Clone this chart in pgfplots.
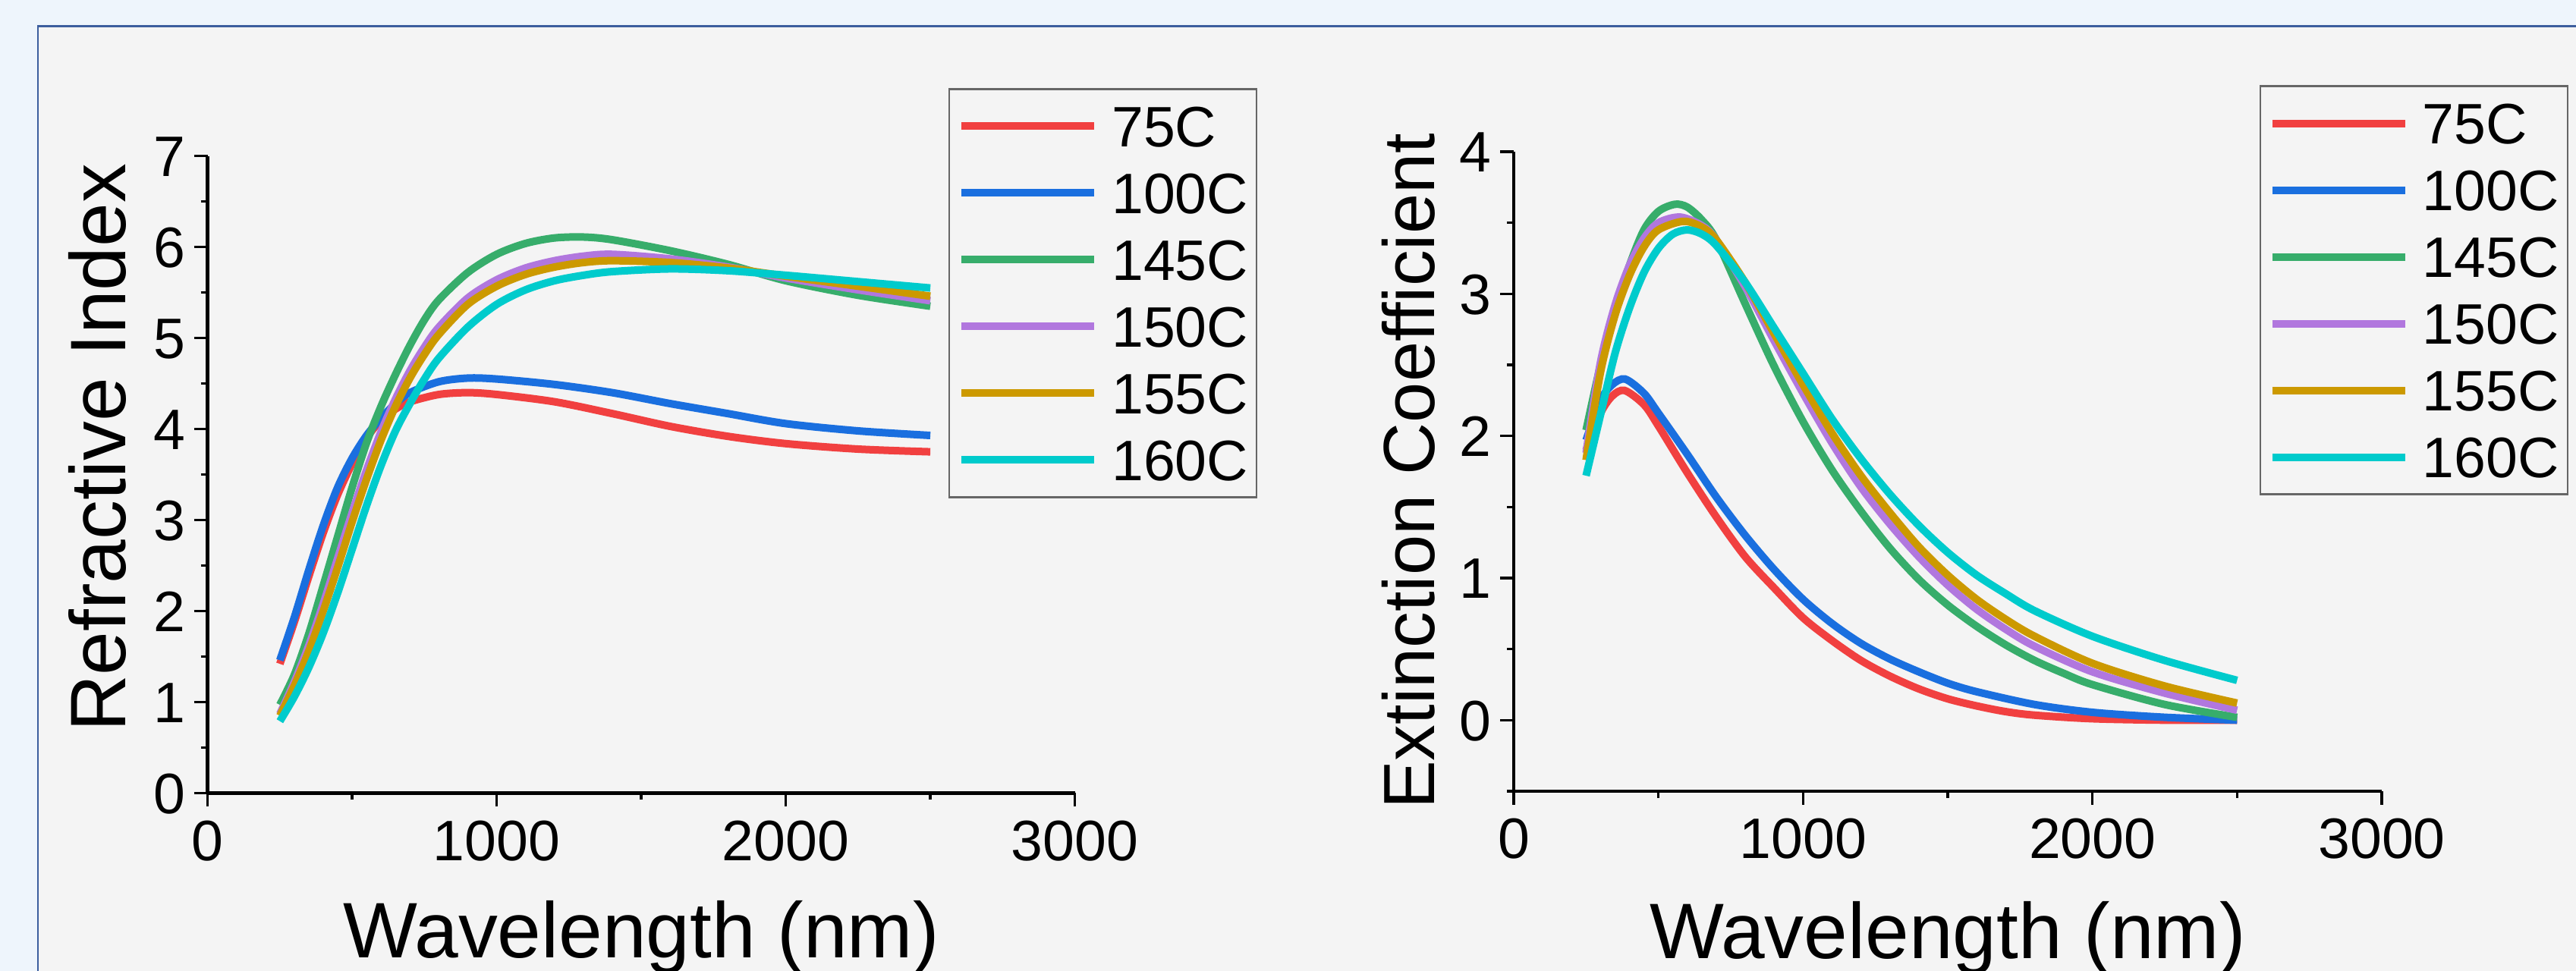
\documentclass[border=0pt]{standalone}
\usepackage{fontspec}
\setmainfont{Liberation Sans}
\usepackage{pgfplots}
\pgfplotsset{compat=1.18}

\definecolor{c75}{HTML}{F14040}
\definecolor{c100}{HTML}{1A6FDF}
\definecolor{c145}{HTML}{37AD6B}
\definecolor{c150}{HTML}{B177DE}
\definecolor{c155}{HTML}{CC9900}
\definecolor{c160}{HTML}{00CBCC}
\definecolor{outerbg}{HTML}{EEF5FC}
\definecolor{panelbg}{HTML}{F4F4F4}
\definecolor{frameblue}{HTML}{3C5E9E}

% shared look of both panels (1 px of the reference = 0.1 mm)
\pgfplotsset{
  originpanel/.style={
    scale only axis,
    axis lines=left,
    axis line style={-, line width=0.45mm, black},
    tick align=outside,
    major tick length=1.8mm, minor tick length=0.9mm,
    every tick/.style={black, line width=0.35mm},
    xmin=0, xmax=3000,
    xtick={0,1000,2000,3000}, minor xtick={500,1500,2500},
    scaled x ticks=false,
    /pgf/number format/assume math mode=true,
    /pgf/number format/set thousands separator={},
    tick label style={font=\fontsize{21.4}{24}\selectfont, inner sep=0pt,
      text height=5.4mm, text depth=0pt},
    xticklabel style={anchor=north, yshift=-1.6mm},
    yticklabel style={anchor=east, xshift=-1.1mm},
    label style={font=\fontsize{29.5}{34}\selectfont},
    xlabel={Wavelength (nm)},
    legend cell align=left,
    legend image code/.code={
      \draw[#1, line width=1mm] (0mm,0mm) -- (17.5mm,0mm);
      \path[draw=none, fill=none] (0mm,0mm) -- (19.8mm,0mm);
    },
    legend style={draw=black!60, line width=0.25mm, fill=none,
      font=\fontsize{21.4}{24}\selectfont,
      inner xsep=1.1mm, inner ysep=2.2mm, row sep=3.4mm,
      nodes={inner sep=0pt, text height=5.4mm, text depth=0pt}},
    every axis plot/.append style={line width=1mm, smooth, no markers},
  },
}

\begin{document}
\begin{tikzpicture}
\useasboundingbox (0,0) rectangle (339.5mm,128mm);
\fill[outerbg] (0,0) rectangle (339.5mm,128mm);
\filldraw[fill=panelbg, draw=frameblue, line width=0.25mm] (5mm,-5mm) rectangle (345mm,124.55mm);

% ---------- refractive index ----------
\begin{axis}[originpanel,
  at={(27.36mm,23.45mm)}, anchor=south west,
  width=114.3mm, height=83.98mm,
  ymin=0, ymax=7, ytick={0,...,7}, minor ytick={0.5,1.5,...,6.5},
  ylabel={Refractive Index},
  xlabel style={at={(axis description cs:0.5,-0.259)}, anchor=base},
  ylabel style={at={(axis description cs:-0.095,0.542)}, anchor=base},
  legend style={at={(axis description cs:0.8542,1.1068)}, anchor=north west},
]
\addplot[c75] coordinates {(250,1.42)(300,1.88)(350,2.38)(400,2.86)(450,3.28)(500,3.62)(550,3.90)(600,4.10)(650,4.22)(700,4.30)(800,4.38)(900,4.40)(1000,4.38)(1200,4.30)(1400,4.17)(1600,4.03)(1800,3.92)(2000,3.84)(2250,3.78)(2500,3.75)};
\addplot[c100] coordinates {(250,1.46)(300,1.93)(350,2.45)(400,2.94)(450,3.36)(500,3.68)(550,3.93)(600,4.12)(650,4.28)(700,4.40)(800,4.52)(900,4.56)(1000,4.55)(1200,4.49)(1400,4.40)(1600,4.28)(1800,4.17)(2000,4.06)(2250,3.98)(2500,3.93)};
\addplot[c145] coordinates {(250,0.97)(300,1.30)(350,1.75)(400,2.28)(450,2.82)(500,3.36)(550,3.85)(600,4.25)(650,4.60)(700,4.92)(750,5.20)(800,5.42)(900,5.72)(1000,5.92)(1100,6.04)(1200,6.10)(1300,6.11)(1400,6.08)(1600,5.96)(1800,5.81)(2000,5.63)(2250,5.47)(2500,5.35)};
\addplot[c150] coordinates {(250,0.87)(300,1.22)(350,1.62)(400,2.08)(450,2.58)(500,3.08)(550,3.55)(600,3.97)(650,4.33)(700,4.64)(750,4.90)(800,5.12)(900,5.44)(1000,5.64)(1100,5.77)(1200,5.85)(1300,5.90)(1400,5.92)(1600,5.87)(1800,5.78)(2000,5.66)(2250,5.53)(2500,5.41)};
\addplot[c155] coordinates {(250,0.85)(300,1.18)(350,1.56)(400,2.00)(450,2.48)(500,2.98)(550,3.45)(600,3.88)(650,4.25)(700,4.56)(750,4.82)(800,5.04)(900,5.37)(1000,5.57)(1100,5.70)(1200,5.78)(1300,5.83)(1400,5.85)(1600,5.83)(1800,5.77)(2000,5.68)(2250,5.57)(2500,5.46)};
\addplot[c160] coordinates {(250,0.79)(300,1.06)(350,1.38)(400,1.76)(450,2.20)(500,2.68)(550,3.16)(600,3.60)(650,3.98)(700,4.28)(750,4.55)(800,4.78)(900,5.12)(1000,5.37)(1100,5.53)(1200,5.63)(1300,5.69)(1400,5.73)(1600,5.76)(1800,5.74)(2000,5.69)(2250,5.62)(2500,5.55)};
\legend{75C,100C,145C,150C,155C,160C}
\end{axis}

% ---------- extinction coefficient ----------
\begin{axis}[originpanel,
  at={(199.5mm,23.7mm)}, anchor=south west,
  width=114.4mm, height=84.3mm,
  ymin=-0.5, ymax=4, ytick={0,...,4}, minor ytick={-0.5,0.5,1.5,2.5,3.5},
  ylabel={Extinction Coefficient},
  ylabel style={font=\fontsize{27.2}{31}\selectfont,
    at={(axis description cs:-0.0918,0.5)}, anchor=base},
  xlabel style={at={(axis description cs:0.5,-0.261)}, anchor=base},
  legend style={at={(axis description cs:0.859,1.104)}, anchor=north west},
]
\addplot[c75] coordinates {(250,1.90)(300,2.16)(340,2.28)(383,2.32)(450,2.22)(500,2.07)(600,1.74)(700,1.43)(800,1.15)(900,0.93)(1000,0.72)(1100,0.56)(1200,0.42)(1300,0.31)(1400,0.22)(1500,0.15)(1600,0.10)(1700,0.06)(1800,0.035)(2000,0.01)(2250,0.0)(2500,0.0)};
\addplot[c100] coordinates {(250,1.97)(300,2.25)(340,2.36)(385,2.40)(450,2.30)(500,2.16)(600,1.87)(700,1.57)(800,1.30)(900,1.06)(1000,0.85)(1100,0.68)(1200,0.54)(1300,0.43)(1400,0.34)(1500,0.26)(1600,0.20)(1800,0.11)(2000,0.055)(2250,0.02)(2500,0.0)};
\addplot[c145] coordinates {(250,2.04)(300,2.50)(350,2.88)(400,3.20)(450,3.45)(500,3.58)(557,3.63)(600,3.61)(650,3.52)(700,3.38)(800,2.93)(900,2.49)(1000,2.10)(1100,1.76)(1200,1.47)(1300,1.21)(1400,0.99)(1500,0.81)(1600,0.66)(1700,0.53)(1800,0.42)(1900,0.33)(2000,0.25)(2250,0.11)(2500,0.02)};
\addplot[c150] coordinates {(250,1.88)(300,2.52)(350,2.92)(400,3.20)(450,3.39)(500,3.50)(575,3.54)(650,3.48)(700,3.38)(800,3.05)(900,2.67)(1000,2.30)(1100,1.95)(1200,1.64)(1300,1.38)(1400,1.15)(1500,0.95)(1600,0.78)(1700,0.64)(1800,0.52)(2000,0.34)(2250,0.19)(2500,0.07)};
\addplot[c155] coordinates {(250,1.83)(300,2.45)(350,2.85)(400,3.13)(450,3.33)(500,3.45)(586,3.51)(650,3.47)(700,3.38)(800,3.08)(900,2.72)(1000,2.36)(1100,2.02)(1200,1.72)(1300,1.46)(1400,1.22)(1500,1.02)(1600,0.85)(1700,0.71)(1800,0.59)(2000,0.40)(2250,0.24)(2500,0.12)};
\addplot[c160] coordinates {(250,1.72)(300,2.15)(350,2.58)(400,2.90)(450,3.15)(500,3.32)(550,3.42)(600,3.45)(650,3.42)(700,3.34)(800,3.08)(900,2.76)(1000,2.44)(1100,2.12)(1200,1.84)(1300,1.59)(1400,1.37)(1500,1.18)(1600,1.02)(1700,0.89)(1800,0.77)(2000,0.59)(2250,0.42)(2500,0.28)};
\legend{75C,100C,145C,150C,155C,160C}
\end{axis}
\end{tikzpicture}
\end{document}
